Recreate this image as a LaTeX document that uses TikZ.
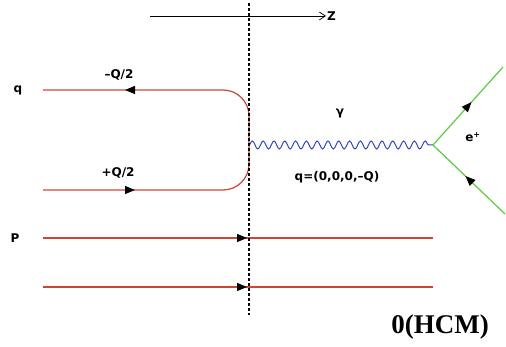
\documentclass[tikz,border=0pt]{standalone}
\usepackage{fontspec}
\setsansfont{DejaVu Sans}
\newfontfamily\hcmfont{Liberation Serif}
\usetikzlibrary{arrows.meta,positioning,calc,decorations.markings,decorations.pathmorphing}
\definecolor{quarkred}{RGB}{205,70,50}
\definecolor{photonblue}{RGB}{50,70,205}
\definecolor{leptongreen}{RGB}{90,205,60}

\begin{document}
\begin{tikzpicture}[>=Latex,x=1pt,y=-1pt,
  lbl/.style={font=\sffamily\bfseries\fontsize{12}{14}\selectfont,inner sep=1pt},
  quark/.style={draw=quarkred,line width=1.2pt},
  lepton/.style={draw=leptongreen,line width=1.2pt},
  photon/.style={draw=photonblue,line width=1pt,decorate,
    decoration={snake,segment length=10.8pt,amplitude=4pt}},
  midarrow/.style={postaction={decorate,decoration={markings,
    mark=at position #1 with {\arrow[black]{Triangle[length=10pt,width=8pt]}}}}}]
\useasboundingbox (0,0) rectangle (506,347);
% end points
\coordinate (qa) at (43,190);
\coordinate (qb) at (43,90);
\coordinate (vtx) at (249,145);
\coordinate (eev) at (433,145);
\coordinate (ep) at (503,67);
\coordinate (em) at (505,214);
\coordinate (pa) at (43,238);
\coordinate (pb) at (433,238);
\coordinate (pc) at (43,287);
\coordinate (pd) at (433,287);
\coordinate (cuttop) at (249,3);
\coordinate (cutbot) at (249,315);
\coordinate (zs) at (150,16);
\coordinate (ze) at (326,16);
% labels
\node (q) [lbl] at (18,90) {q};
\node (P) [lbl] at (15,238) {P};
\node (mq) [lbl] at (119,75) {–Q/2};
\node (pq) [lbl] at (118,173) {+Q/2};
\node (gam) [lbl] at (340,113) {γ};
\node (mom) [lbl] at (337,177) {q=(0,0,0,–Q)};
\node (pos) [lbl] at (473,137) {e\textsuperscript{+}};
\node (hcm) at (440,327) {\hcmfont\bfseries\fontsize{27}{30}\selectfont 0(HCM)};
\node (z) [lbl,anchor=west] at (ze) {Z};
% lines
\draw[->,line width=0.7pt,>={Straight Barb[length=6pt,width=8pt]}] (zs) -- (z.west);
\draw[quark,rounded corners=26pt,midarrow=92pt,
  postaction={decorate,decoration={markings,
    mark=at position -82pt with {\arrow[black]{Triangle[length=10pt,width=8pt]}}}}]
  (qa) -- (qa -| vtx) -- (qb -| vtx) -- (qb);
\draw[photon] (vtx) -- (eev);
\draw[lepton,midarrow=0.55] (eev) -- (ep);
\draw[lepton,midarrow=0.55] (em) -- (eev);
\draw[quark,midarrow=204pt] (pa) -- (pb);
\draw[quark,midarrow=204pt] (pc) -- (pd);
\draw[line width=1.6pt,dash pattern=on 3pt off 2pt] (cuttop) -- (cutbot);
\end{tikzpicture}
\end{document}
